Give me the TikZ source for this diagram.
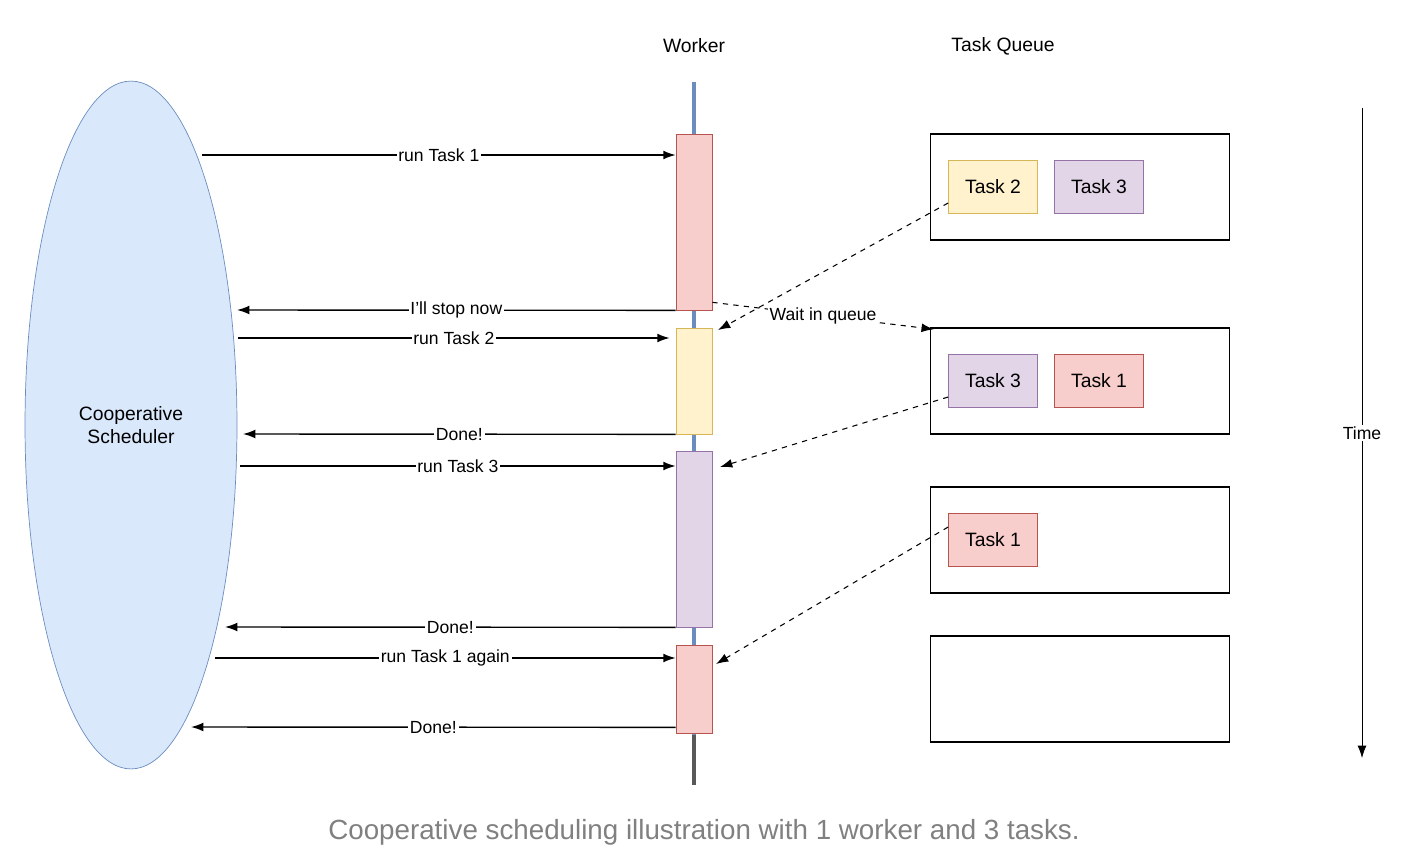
\documentclass[tikz,border=0pt]{standalone}
\usepackage{fontspec}
\setmainfont{Liberation Sans}
\usetikzlibrary{arrows.meta,positioning,shapes.geometric}
\definecolor{schedfill}{RGB}{218,232,252}
\definecolor{schedline}{RGB}{108,142,191}
\definecolor{redfill}{RGB}{248,206,204}
\definecolor{redline}{RGB}{184,84,80}
\definecolor{yelfill}{RGB}{255,242,204}
\definecolor{yelline}{RGB}{214,182,86}
\definecolor{purfill}{RGB}{225,213,231}
\definecolor{purline}{RGB}{150,115,166}
\tikzset{
	bar/.style={draw, minimum width=0.72cm, inner sep=0pt},
	msg/.style={-{Latex[length=7pt,width=5pt]}, thick},
	lbl/.style={fill=white, inner sep=1pt, font=\fontsize{10}{12}\selectfont},
	qbox/.style={draw, thick, minimum width=5.98cm, minimum height=2.12cm, inner sep=0pt},
	task/.style={draw, minimum width=1.78cm, minimum height=1.06cm, inner sep=0pt, font=\fontsize{11}{13}\selectfont},
	wait/.style={dashed, semithick, -{Latex[length=7pt,width=5pt]}},
}
\begin{document}
\begin{tikzpicture}[x=0.02cm, y=-0.02cm]
			\useasboundingbox (0,0) rectangle (1426,868);
			% scheduler and headings
			\node[ellipse, draw=schedline, fill=schedfill, minimum width=4.24cm, minimum height=13.76cm, inner sep=0pt,
				align=center, font=\fontsize{11}{13}\selectfont] (sched) at (131,425) {Cooperative\\Scheduler};
			\node[font=\fontsize{11}{13}\selectfont] (worker) at (694,46) {Worker};
			\node[font=\fontsize{11}{13}\selectfont] (queue) at (1003,46) {Task Queue};
			
			% worker time line
			\draw [schedline, line width=2.5pt] (694,82) -- (694,735);
			\draw [gray!70!black, line width=2.5pt] (694,735) -- (694,785);
			
			% running slices
			\node[bar, fill=redfill, draw=redline, minimum height=3.52cm] (b1) at (694,222) {};
			\node[bar, fill=yelfill, draw=yelline, minimum height=2.12cm] (b2) at (694,381) {};
			\node[bar, fill=purfill, draw=purline, minimum height=3.52cm] (b3) at (694,539) {};
			\node[bar, fill=redfill, draw=redline, minimum height=1.76cm] (b4) at (694,689) {};
			
			% messages
			\coordinate (s1) at (202,155); \coordinate (s2) at (237,310);
			\coordinate (s3) at (238,338); \coordinate (s4) at (243,434);
			\coordinate (s5) at (240,466); \coordinate (s6) at (225,627);
			\coordinate (s7) at (215,658); \coordinate (s8) at (191,727);
			\draw [msg] (s1) -- node[lbl]{run Task 1} (b1.west |- s1);
			\draw [msg] (b1.south west) -- node[lbl]{I'll stop now} (s2);
			\draw [msg] (s3) -- node[lbl]{run Task 2} ([xshift=-0.12cm]b2.west |- s3);
			\draw [msg] (b2.south west) -- node[lbl]{Done!} (s4);
			\draw [msg] (s5) -- node[lbl]{run Task 3} (b3.west |- s5);
			\draw [msg] (b3.south west) -- node[lbl]{Done!} (s6);
			\draw [msg] (s7) -- node[lbl]{run Task 1 again} (b4.west |- s7);
			\draw [msg] ([yshift=0.12cm]b4.south west) -- node[lbl]{Done!} (s8);
			
			% task queue snapshots
			\node[qbox] (q1) at (1080,187) {};
			\node[qbox] (q2) at (1080,381) {};
			\node[qbox] (q3) at (1080,540) {};
			\node[qbox] (q4) at (1080,689) {};
			\node[task, fill=yelfill, draw=yelline] (t12) at (993,187) {Task 2};
			\node[task, fill=purfill, draw=purline] (t13) at (1099,187) {Task 3};
			\node[task, fill=purfill, draw=purline] (t23) at (993,381) {Task 3};
			\node[task, fill=redfill, draw=redline] (t21) at (1099,381) {Task 1};
			\node[task, fill=redfill, draw=redline] (t31) at (993,540) {Task 1};
			
			% waiting
			\draw [wait] ([yshift=-0.32cm]t12.west) -- (718,330);
			\draw [wait] ([yshift=0.16cm]b1.south east) -- node[lbl, pos=0.5]{Wait in queue} ([xshift=0.08cm,yshift=-0.04cm]q2.north west);
			\draw [wait] ([yshift=-0.32cm]t23.west) -- (720,467);
			\draw [wait] ([yshift=0.26cm]t31.west) -- (716,664);
			
			% time axis
			\coordinate (ttop) at (1362,108); \coordinate (tbot) at (1362,758);
			\draw [msg, thin] (ttop) -- node[lbl]{Time} (tbot);
			
			\node[text=gray, font=\fontsize{15.8}{19}\selectfont] (cap) at (704,832) {Cooperative scheduling illustration with 1 worker and 3 tasks.};
			\end{tikzpicture}
\end{document}
